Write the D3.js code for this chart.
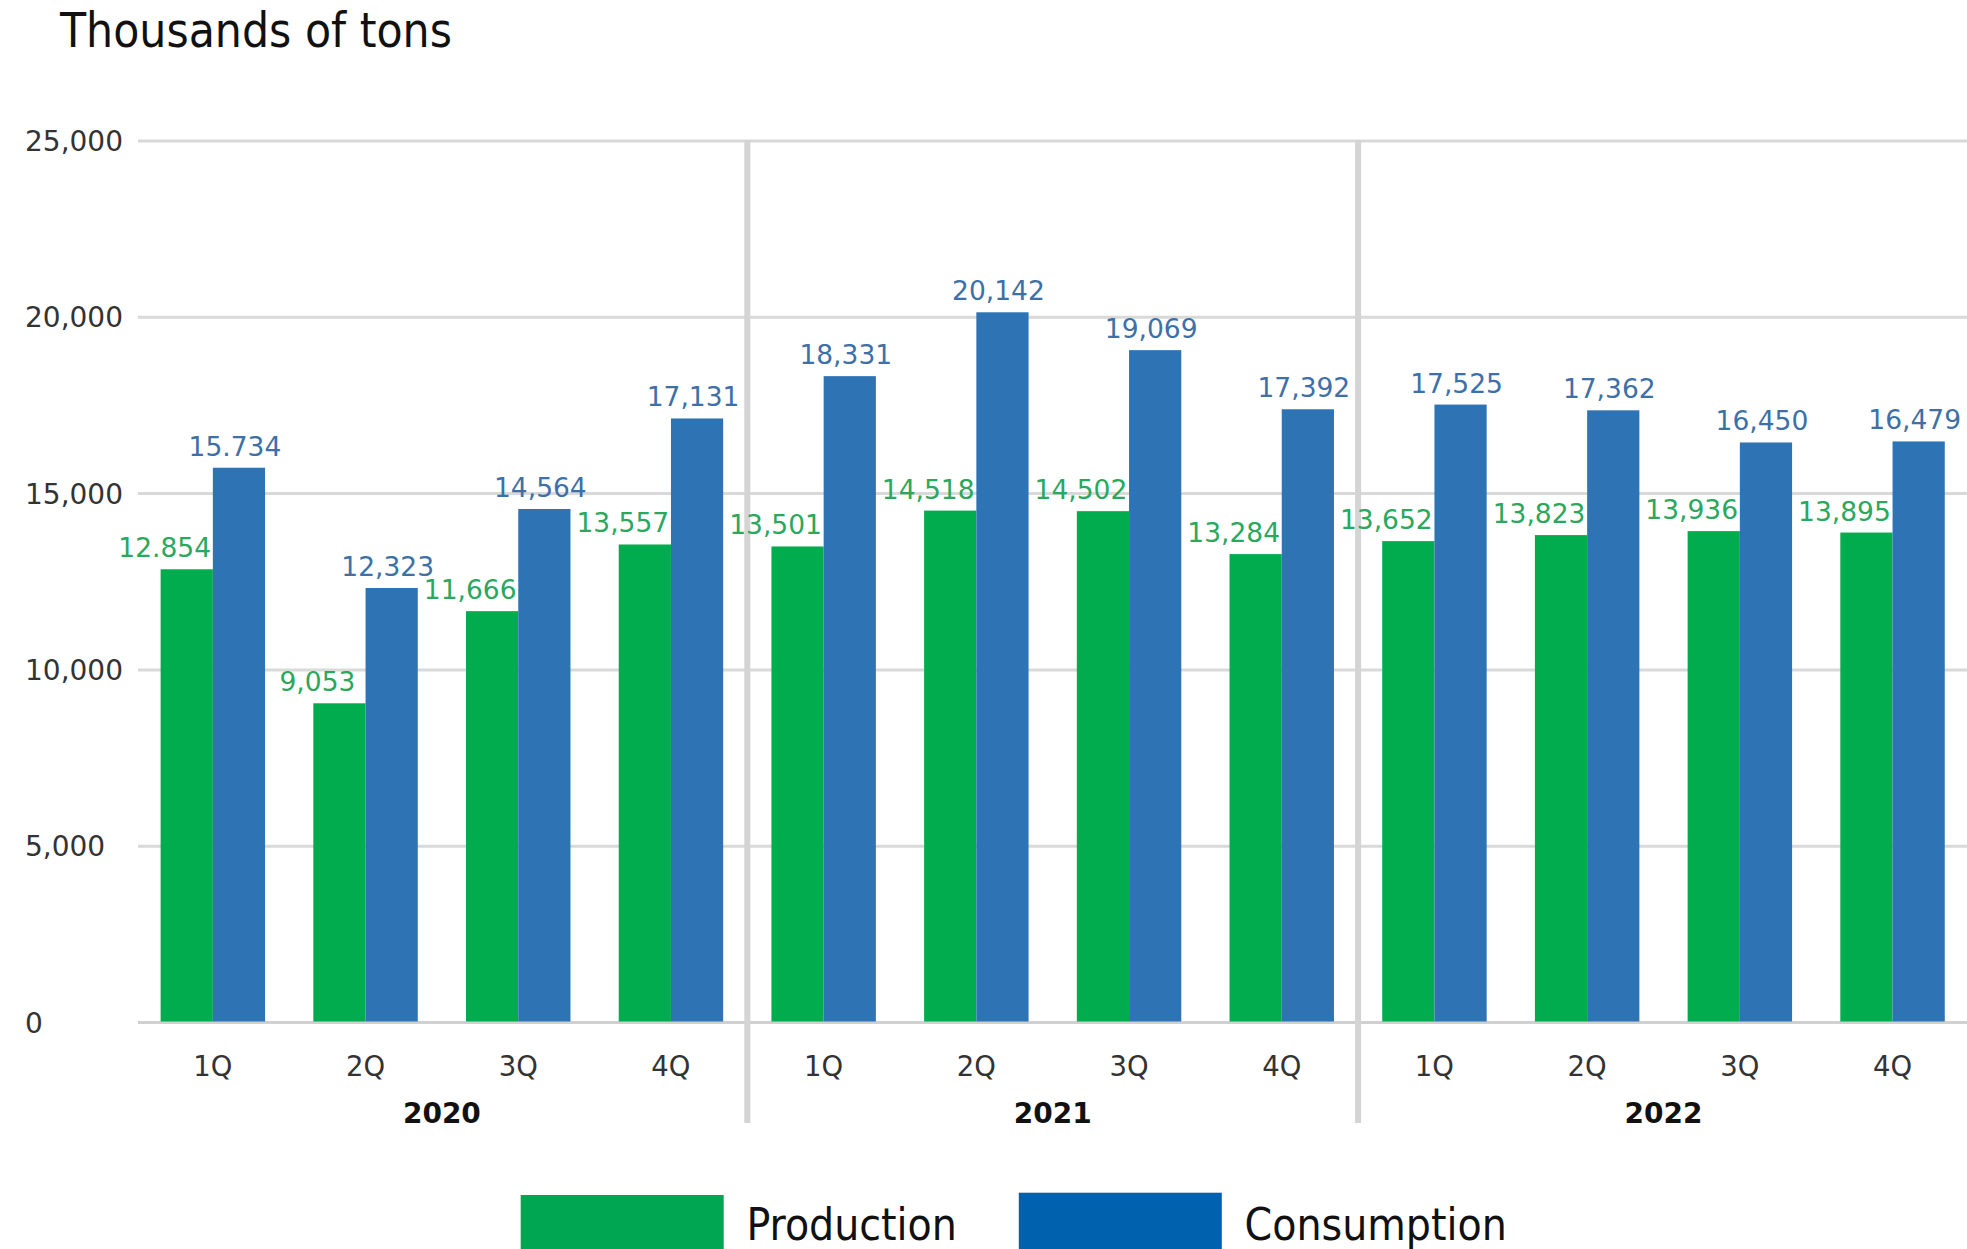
<!DOCTYPE html>
<html>
<head>
<meta charset="utf-8">
<script src="https://cdn.jsdelivr.net/npm/d3@7"></script>
<style>
  html, body { margin: 0; padding: 0; background: #ffffff; }
  svg { display: block; }
</style>
</head>
<body>
<svg id="chart" width="1967" height="1249"></svg>
<script>
// ---- Data ----
const years = ["2020", "2021", "2022"];
const quarters = ["1Q", "2Q", "3Q", "4Q"];
const production = [12854, 9053, 11666, 13557, 13501, 14518, 14502, 13284, 13652, 13823, 13936, 13895];
const consumption = [15734, 12323, 14564, 17131, 18331, 20142, 19069, 17392, 17525, 17362, 16450, 16479];
const productionLabels = ["12.854", "9,053", "11,666", "13,557", "13,501", "14,518", "14,502", "13,284", "13,652", "13,823", "13,936", "13,895"];
const consumptionLabels = ["15.734", "12,323", "14,564", "17,131", "18,331", "20,142", "19,069", "17,392", "17,525", "17,362", "16,450", "16,479"];
const yTicks = [0, 5000, 10000, 15000, 20000, 25000];
const seriesNames = ["Production", "Consumption"];
const titleText = "Thousands of tons";

// ---- Layout ----
const W = 1967, H = 1249;
const svg = d3.select("#chart");
const colProdBar = "#00ac4e", colConsBar = "#2e74b5";
const colProdText = "#29a85e", colConsText = "#3e70a8";
const colProdLegend = "#00a651", colConsLegend = "#0061ae";

const keys = [];
years.forEach(y => quarters.forEach(q => keys.push(y + "-" + q)));

const x = d3.scaleBand().domain(keys).range([136.5, 1968.9]).paddingInner(0.316).paddingOuter(0.158);
const y = d3.scaleLinear().domain([0, 25000]).range([1022.5, 141]);

// title
svg.append("text")
  .attr("x", 60).attr("y", 46.5)
  .attr("font-family", "'DejaVu Sans Condensed', 'DejaVu Sans', sans-serif")
  .attr("font-stretch", "condensed")
  .attr("font-size", 47.5)
  .attr("fill", "#111")
  .text(titleText);

// gridlines
svg.append("g").selectAll("line").data(yTicks).join("line")
  .attr("x1", 138).attr("x2", W)
  .attr("y1", d => y(d)).attr("y2", d => y(d))
  .attr("stroke", d => d === 0 ? "#d0d0d0" : "#d9d9d9")
  .attr("stroke-width", 3);

// y tick labels
svg.append("g").selectAll("text").data(yTicks).join("text")
  .attr("x", 25).attr("y", d => y(d))
  .attr("dy", "0.36em")
  .attr("font-family", "'DejaVu Sans', Verdana, sans-serif")
  .attr("font-size", 28)
  .attr("fill", "#333")
  .text(d => d3.format(",")(d));

// year separators
const sepIdx = [4, 8];
svg.append("g").selectAll("line").data(sepIdx).join("line")
  .attr("x1", d => x(keys[d]) - x.step() * x.paddingInner() / 2)
  .attr("x2", d => x(keys[d]) - x.step() * x.paddingInner() / 2)
  .attr("y1", y(25000) - 1).attr("y2", 1123)
  .attr("stroke", "#d4d4d4")
  .attr("stroke-width", 6);

const bw = x.bandwidth() / 2;

// bars
const gBars = svg.append("g");
gBars.selectAll("rect.p").data(production).join("rect")
  .attr("class", "p")
  .attr("x", (d, i) => x(keys[i]))
  .attr("y", d => y(d))
  .attr("width", bw)
  .attr("height", d => y(0) - y(d) - 1)
  .attr("fill", colProdBar);
gBars.selectAll("rect.c").data(consumption).join("rect")
  .attr("class", "c")
  .attr("x", (d, i) => x(keys[i]) + bw)
  .attr("y", d => y(d))
  .attr("width", bw)
  .attr("height", d => y(0) - y(d) - 1)
  .attr("fill", colConsBar);

// data labels
const gLab = svg.append("g")
  .attr("font-family", "'DejaVu Sans', Verdana, sans-serif")
  .attr("font-size", 26.5)
  .attr("text-anchor", "middle");
gLab.selectAll("text.p").data(production).join("text")
  .attr("class", "p")
  .attr("x", (d, i) => x(keys[i]) + bw / 2 - 22)
  .attr("y", d => y(d) - 12)
  .attr("fill", colProdText)
  .text((d, i) => productionLabels[i]);
gLab.selectAll("text.c").data(consumption).join("text")
  .attr("class", "c")
  .attr("x", (d, i) => x(keys[i]) + bw * 1.5 - 4)
  .attr("y", d => y(d) - 12)
  .attr("fill", colConsText)
  .text((d, i) => consumptionLabels[i]);

// x axis quarter labels
svg.append("g").selectAll("text").data(keys).join("text")
  .attr("x", d => x(d) + x.bandwidth() / 2)
  .attr("y", 1076)
  .attr("text-anchor", "middle")
  .attr("font-family", "'DejaVu Sans', Verdana, sans-serif")
  .attr("font-size", 27.5)
  .attr("fill", "#333")
  .text(d => d.split("-")[1]);

// year labels
svg.append("g").selectAll("text").data(years).join("text")
  .attr("x", (d, i) => {
    const first = x(d + "-" + quarters[0]);
    const last = x(d + "-" + quarters[quarters.length - 1]) + x.bandwidth();
    return (first + last) / 2;
  })
  .attr("y", 1123)
  .attr("text-anchor", "middle")
  .attr("font-family", "'DejaVu Sans', Verdana, sans-serif")
  .attr("font-weight", "bold")
  .attr("font-size", 28)
  .attr("fill", "#111")
  .text(d => d);

// legend
const legend = [
  { name: seriesNames[0], color: colProdLegend, sx: 520.7, top: 1195, tx: 746.5 },
  { name: seriesNames[1], color: colConsLegend, sx: 1018.8, top: 1192.7, tx: 1244.6 }
];
const gLeg = svg.append("g");
gLeg.selectAll("rect").data(legend).join("rect")
  .attr("x", d => d.sx).attr("y", d => d.top)
  .attr("width", 203).attr("height", d => H - d.top + 5)
  .attr("fill", d => d.color);
gLeg.selectAll("text").data(legend).join("text")
  .attr("x", d => d.tx).attr("y", 1239.5)
  .attr("font-family", "'DejaVu Sans Condensed', 'DejaVu Sans', sans-serif")
  .attr("font-stretch", "condensed")
  .attr("font-size", 44)
  .attr("fill", "#111")
  .text(d => d.name);
</script>
</body>
</html>
